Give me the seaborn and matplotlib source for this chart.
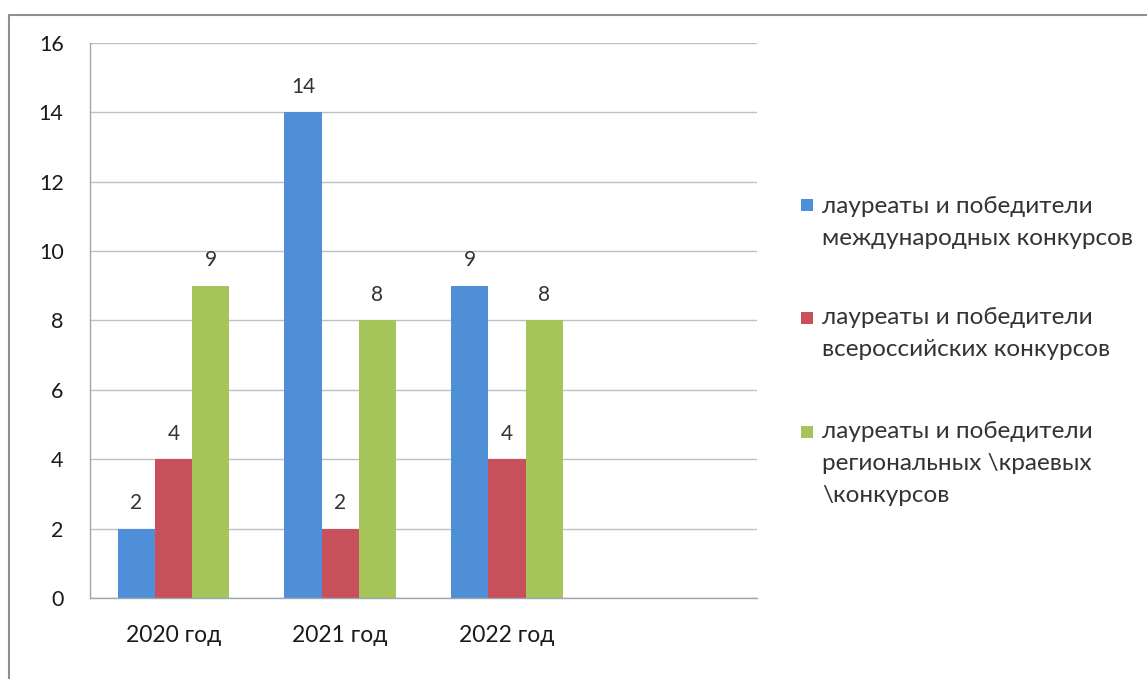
import pandas as pd
import seaborn as sns
import matplotlib.pyplot as plt
from matplotlib.lines import Line2D
from matplotlib.patches import Rectangle

# -------- DATA --------
years = ['2020 год', '2021 год', '2022 год']
series_names = [
    'лауреаты и победители\nмеждународных конкурсов',
    'лауреаты и победители\nвсероссийских конкурсов',
    'лауреаты и победители\nрегиональных \\краевых\n\\конкурсов',
]
international = [2, 14, 9]
all_russian = [4, 2, 4]
regional = [9, 8, 8]

colors = ['#4F8FD8', '#C8505A', '#A5C45A']

rows = []
for name, vals in zip(series_names, [international, all_russian, regional]):
    for y, v in zip(years, vals):
        rows.append({'Year': y, 'Series': name, 'Value': v})
df = pd.DataFrame(rows)

# fourth empty slot like the original Excel chart
order = years + [' ']

sns.set_style('white')
plt.rcParams['font.family'] = ['Lato', 'DejaVu Sans']

fig = plt.figure(figsize=(11.47, 6.79), dpi=100)
ax = fig.add_axes([0.0785, 0.119, 0.5815, 0.818])

sns.barplot(data=df, x='Year', y='Value', hue='Series', order=order,
            hue_order=series_names, palette=colors, width=0.67,
            saturation=1, linewidth=0, edgecolor='none', ax=ax, legend=False)

for cont in ax.containers:
    ax.bar_label(cont, fmt='%d', padding=11, fontsize=15, color='#333333')

ax.set_ylim(0, 16)
ax.set_yticks(range(0, 17, 2))
ax.set_xlim(-0.5, 3.5)
ax.yaxis.grid(True, color='#bcc0cc', linewidth=1)
ax.set_axisbelow(True)
ax.set_xlabel('')
ax.set_ylabel('')

# category boundary ticks, labels in the middle
ax.set_xticks([-0.5, 0.5, 1.5, 2.5, 3.5], minor=True)
ax.tick_params(axis='x', which='minor', length=6, color='#a0a4b0', width=1)
ax.tick_params(axis='x', which='major', length=0, pad=19, labelsize=16.5, labelcolor='#1a1a1a')
ax.tick_params(axis='y', length=6, color='#a0a4b0', width=1, pad=13, labelsize=15.5, labelcolor='#1a1a1a')
ax.set_xticks(range(len(order)))
ax.set_xticklabels(order)

for s in ['top', 'right']:
    ax.spines[s].set_visible(False)
for s in ['left', 'bottom']:
    ax.spines[s].set_color('#a0a4b0')
    ax.spines[s].set_linewidth(1)

# legend: square next to the first line of each label (Excel style)
legend_tops = [0.7113, 0.5479, 0.3800]
square_centers = [0.6981, 0.5317, 0.3638]
for name, c, ty, sy in zip(series_names, colors, legend_tops, square_centers):
    fig.add_artist(Rectangle((0.6983, sy - 0.0088), 0.0105, 0.0177,
                             transform=fig.transFigure, facecolor=c, edgecolor='none'))
    fig.text(0.7167, ty, name, fontsize=17.5, color='#333333',
             va='top', ha='left', linespacing=1.64)

# scanned page frame (left and top edges)
fig.add_artist(Line2D([0.008, 0.008], [0, 0.978], color='#909090', linewidth=1.5))
fig.add_artist(Line2D([0.008, 1.0], [0.978, 0.978], color='#909090', linewidth=1.5))

plt.savefig('out.png', dpi=100)
plt.close()
